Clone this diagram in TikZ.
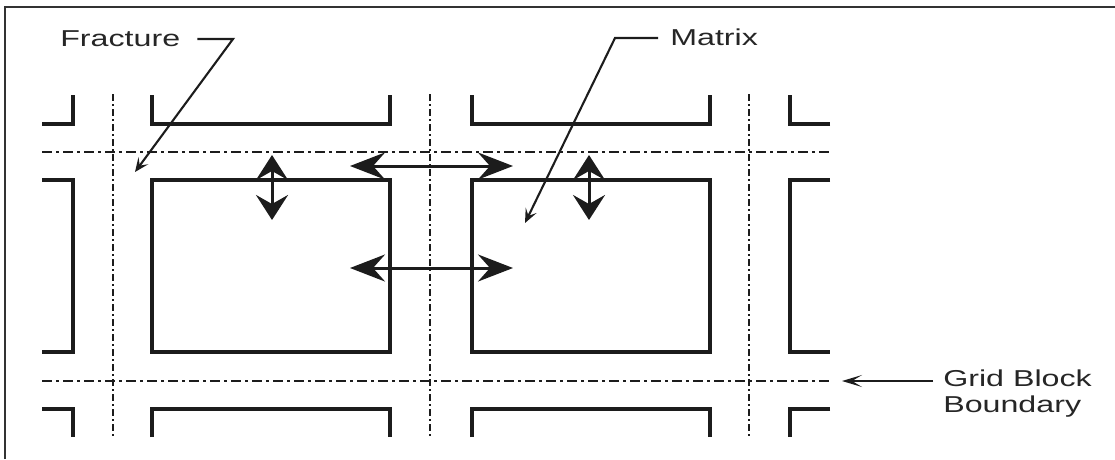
\documentclass[tikz,border=0pt]{standalone}
\usepackage{fontspec}
\setmainfont{Liberation Sans}
\usetikzlibrary{arrows.meta}
\definecolor{ink}{HTML}{1C1C1C}
\definecolor{labelink}{HTML}{262626}
\definecolor{framegray}{HTML}{333333}
\begin{document}
\begin{tikzpicture}[x=1pt,y=-1pt,
  wall/.style={draw=ink,line width=3.2pt,line join=miter},
  gridline/.style={draw=ink,line width=2.8pt},
  hgrid/.style={gridline,dash pattern=on 10pt off 4pt on 3pt off 4pt},
  vgrid/.style={gridline,dash pattern=on 7pt off 3pt on 2pt off 3pt},
  flowh/.style={draw=ink,line width=3pt,
    {Stealth[length=35pt,width=27pt,inset=12pt]}-{Stealth[length=35pt,width=27pt,inset=12pt]}},
  flowv/.style={draw=ink,line width=3pt,
    {Stealth[length=25pt,width=32pt,inset=9pt]}-{Stealth[length=25pt,width=32pt,inset=9pt]}},
  leader/.style={draw=ink,line width=2.1pt},
  leadtip/.style={-{Stealth[length=14pt,width=12pt,inset=6pt]}},
  lbl/.style={text=labelink,font=\fontsize{23}{26}\selectfont,inner sep=0pt,xscale=1.4},
  framestyle/.style={draw=framegray,line width=1.8pt}]

\useasboundingbox (0,0) rectangle (1115,459);

% outer frame
\draw[framestyle] (5,459) -- (5,7) -- (1115,7);

% grid block boundaries (dash-dot)
\draw[hgrid] (42,152) -- (830,152);
\draw[hgrid] (42,381) -- (830,381);
\draw[vgrid] (113,94) -- (113,437);
\draw[vgrid] (430,94) -- (430,437);
\draw[vgrid] (749,94) -- (749,437);

% matrix blocks, top row (cut off)
\draw[wall] (42,124) -- (73,124) -- (73,95);
\draw[wall] (152,95) -- (152,124) -- (390,124) -- (390,95);
\draw[wall] (472,95) -- (472,124) -- (710,124) -- (710,95);
\draw[wall] (830,124) -- (790,124) -- (790,95);

% matrix blocks, middle row
\draw[wall] (42,180) -- (73,180) -- (73,352) -- (42,352);
\draw[wall] (152,180) rectangle (390,352);
\draw[wall] (472,180) rectangle (710,352);
\draw[wall] (830,180) -- (790,180) -- (790,352) -- (830,352);

% matrix blocks, bottom row (cut off)
\draw[wall] (42,409) -- (73,409) -- (73,437);
\draw[wall] (152,437) -- (152,409) -- (390,409) -- (390,437);
\draw[wall] (472,437) -- (472,409) -- (710,409) -- (710,437);
\draw[wall] (830,409) -- (790,409) -- (790,437);

% exchange arrows
\coordinate (v1a) at (272,155);
\coordinate (v1b) at (272,220);
\coordinate (v2a) at (589,155);
\coordinate (v2b) at (589,220);
\coordinate (h1a) at (350,166);
\coordinate (h1b) at (513,166);
\coordinate (h2a) at (350,268);
\coordinate (h2b) at (513,268);
\draw[flowv] (v1a) -- (v1b);
\draw[flowv] (v2a) -- (v2b);
\draw[flowh] (h1a) -- (h1b);
\draw[flowh] (h2a) -- (h2b);

% labels
\node[lbl,anchor=base west] (fracture) at (60,46) {Fracture};
\node[lbl,anchor=base west] (matrix) at (670,45) {Matrix};
\node[lbl,anchor=north west,align=left] (gridlabel) at (943,370) {Grid Block\\Boundary};

% leaders
\coordinate (fracBend) at (233,39);
\coordinate (fracTip) at (135,172);
\coordinate (matBend) at (615,38);
\coordinate (matTip) at (525,223);
\coordinate (gridStart) at (933,381);
\coordinate (gridTip) at (842,381);
\draw[leader,leadtip] ([xshift=17pt]fracture.east |- fracBend) -- (fracBend) -- (fracTip);
\draw[leader,leadtip] ([xshift=-12pt]matrix.west |- matBend) -- (matBend) -- (matTip);
\draw[leader,-{Stealth[length=20pt,width=12pt,inset=10pt]}] (gridStart) -- (gridTip);
\end{tikzpicture}
\end{document}
